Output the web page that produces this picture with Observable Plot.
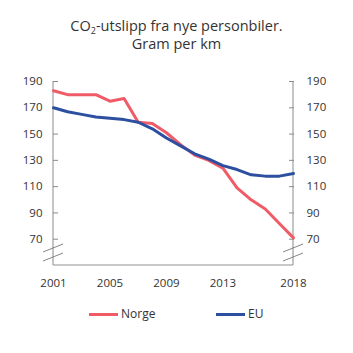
<!DOCTYPE html>
<html><head><meta charset="utf-8">
<script src="https://cdn.jsdelivr.net/npm/d3@7"></script>
<script src="https://cdn.jsdelivr.net/npm/@observablehq/plot@0.6"></script>
<style>
body{margin:0;width:353px;height:353px;position:relative;font-family:"Open Sans",sans-serif;background:#fff;overflow:hidden}
#title{position:absolute;top:17px;left:0;width:353px;text-align:center;font-size:14.5px;line-height:18px;color:#333}
#title sub{font-size:9px;vertical-align:-3px;line-height:0}
#chart{position:absolute;top:70px;left:0}
.leg{position:absolute;top:305px;font-size:12px;line-height:18px;color:#333;display:flex;align-items:center}
.leg span.sw{display:inline-block;width:29px;height:3px;margin-right:3px}
</style></head><body>
<div id="title">CO<sub>2</sub>-utslipp fra nye personbiler.<br>Gram per km</div>
<div id="chart"></div>
<div class="leg" style="left:89px"><span class="sw" style="background:#ef5b67"></span>Norge</div>
<div class="leg" style="left:216px"><span class="sw" style="background:#2d4fa0"></span>EU</div>
<script>
const years = [2001,2002,2003,2004,2005,2006,2007,2008,2009,2010,2011,2012,2013,2014,2015,2016,2017,2018];
const norge = [183,180,180,180,175,177,159,158,151,142,134,130,124,109,100,93,82,71];
const eu = [170,167,165,163,162,161,159,154,147,141,135,131,126,123,119,118,118,120];
const seriesNames = ["Norge","EU"];
const seriesColors = ["#ef5b67","#2d4fa0"];
const yTicks = [70,90,110,130,150,170,190];
const xTicks = [2001,2005,2009,2013,2018];
const yDomain = [50,190];

const data = [];
years.forEach((y,i)=>{
  data.push({year:y, value:norge[i], series:seriesNames[0]});
  data.push({year:y, value:eu[i], series:seriesNames[1]});
});

function axisFrame(index, scales) {
  const g = d3.create("svg:g").attr("fill","none");
  const yTop = scales.y(yDomain[1]);
  const yBase = scales.y(yDomain[0]);
  const x0 = scales.x(years[0]), x1 = scales.x(years[years.length-1]);
  g.append("line").attr("x1",x0).attr("x2",x1).attr("y1",yBase).attr("y2",yBase)
    .attr("stroke","#c8c8c8").attr("stroke-width",2);
  for (const x of [x0,x1]) {
    g.append("line").attr("x1",x).attr("x2",x).attr("y1",yTop).attr("y2",yBase)
      .attr("stroke","#8a8a8a").attr("stroke-width",1);
    g.append("path").attr("stroke","#777").attr("stroke-width",0.9)
      .attr("d",`M${x-10},${yBase-13}L${x+10},${yBase-21}M${x-10},${yBase-4}L${x+10},${yBase-12}`);
  }
  return g.node();
}

const chart = Plot.plot({
  width: 353, height: 230,
  marginLeft: 53, marginRight: 60, marginTop: 11, marginBottom: 35,
  style: {fontFamily: "'Open Sans', sans-serif", fontSize: "11.5px", color: "#333", background: "#fff"},
  x: {domain: [years[0], years[years.length-1]]},
  y: {domain: yDomain},
  color: {domain: seriesNames, range: seriesColors},
  marks: [
    axisFrame,
    Plot.axisY(yTicks, {anchor: "left", tickSize: -5, tickPadding: 16, stroke: "#8a8a8a", label: null}),
    Plot.axisY(yTicks, {anchor: "right", tickSize: -5, tickPadding: 18, stroke: "#8a8a8a", label: null}),
    Plot.axisX(xTicks, {anchor: "bottom", tickSize: 0, tickPadding: 13, tickFormat: d => String(d), label: null}),
    Plot.line(data, {x: "year", y: "value", z: "series", stroke: "series", strokeWidth: 3, curve: "linear"})
  ]
});
document.getElementById("chart").appendChild(chart);
</script>
</body></html>
